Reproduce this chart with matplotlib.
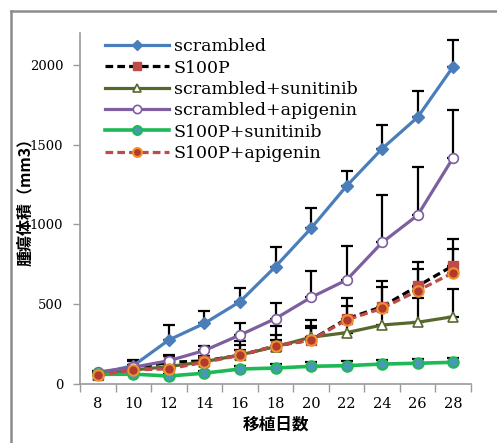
import matplotlib
matplotlib.use("Agg")
import matplotlib.pyplot as plt
from matplotlib.lines import Line2D
import numpy as np

days = [8, 10, 12, 14, 16, 18, 20, 22, 24, 26, 28]

scrambled = [65, 115, 276, 380, 516, 736, 976, 1241, 1475, 1672, 1990]
scrambled_err = [10, 35, 95, 80, 88, 121, 125, 96, 149, 165, 167]

s100p = [58, 100, 136, 145, 180, 238, 276, 408, 485, 614, 742]
s100p_err = [5, 45, 45, 60, 90, 126, 125, 133, 161, 149, 167]

scr_sun = [56, 88, 109, 140, 182, 234, 293, 322, 370, 387, 422]
scr_sun_err = [5, 10, 15, 20, 30, 40, 60, 80, 110, 150, 172]

scr_api = [75, 105, 146, 210, 307, 410, 543, 652, 887, 1058, 1419]
scr_api_err = [5, 15, 30, 31, 78, 96, 165, 213, 295, 302, 299]

s100p_sun = [60, 62, 50, 68, 94, 100, 111, 115, 125, 130, 136]
s100p_sun_err = [5, 8, 10, 12, 20, 25, 30, 30, 25, 25, 28]

s100p_api = [55, 88, 95, 136, 180, 240, 274, 402, 474, 585, 698]
s100p_api_err = [5, 20, 30, 40, 67, 67, 90, 84, 132, 136, 146]

labels = ["scrambled", "S100P", "scrambled+sunitinib", "scrambled+apigenin",
          "S100P+sunitinib", "S100P+apigenin"]
yticks = [0, 500, 1000, 1500, 2000]

W, H = 497, 443
fig = plt.figure(figsize=(W / 100, H / 100), dpi=100)
ax = fig.add_axes([80 / W, (H - 384) / H, (471 - 80) / W, (384 - 33) / H])

x = np.array(days)
series = [
    (scrambled, scrambled_err, dict(color="#4a7ebb", lw=2.3, ls="-", marker="D", ms=6,
                                    mfc="#4a7ebb", mec="#4a7ebb")),
    (s100p, s100p_err, dict(color="black", lw=2.3, ls=(0, (2.4, 1.3)), marker="s", ms=6.5,
                            mfc="#be4b48", mec="#be4b48")),
    (scr_sun, scr_sun_err, dict(color="#56682c", lw=2.3, ls="-", marker="^", ms=6.5,
                                mfc="white", mec="#56682c", mew=1.2)),
    (scr_api, scr_api_err, dict(color="#7d5fa0", lw=2.3, ls="-", marker="o", ms=7,
                                mfc="white", mec="#7d5fa0", mew=1.2)),
    (s100p_sun, s100p_sun_err, dict(color="#1db954", lw=2.6, ls="-", marker="o", ms=7.5,
                                    mfc="#4a98b8", mec="#1db954", mew=1.5)),
    (s100p_api, s100p_api_err, dict(color="#be4b48", lw=2.3, ls=(0, (2.4, 1.3)), marker="o", ms=7.5,
                                    mfc="#b03a2e", mec="#f0902e", mew=1.5)),
]

for vals, err, st in series:
    ax.errorbar(x, vals, yerr=[np.zeros(len(err)), err], fmt="none", ecolor="black",
                elinewidth=1.6, capsize=4, capthick=1.6, zorder=1)

handles = []
for (vals, err, st), lab in zip(series, labels):
    h, = ax.plot(x, vals, label=lab, zorder=3, **st)
    handles.append(h)

ax.set_xlim(7, 29)
ax.set_ylim(0, 2200)
ax.set_xticks(days)
ax.set_xticklabels([str(d) for d in days])
ax.set_xticks(np.arange(7, 30, 2), minor=True)
ax.tick_params(axis="x", which="major", length=0, pad=9, labelsize=10.5)
ax.tick_params(axis="x", which="minor", length=6, width=1, color="#9a9a9a", direction="out")
ax.set_yticks(yticks)
ax.tick_params(axis="y", length=5, width=1, color="#9a9a9a", pad=7, labelsize=9.5)
for t in ax.get_xticklabels() + ax.get_yticklabels():
    t.set_family("DejaVu Serif")

for s in ["top", "right"]:
    ax.spines[s].set_visible(False)
for s in ["left", "bottom"]:
    ax.spines[s].set_color("#9a9a9a")
    ax.spines[s].set_linewidth(1.2)

ax.set_xlabel("移植日数", fontsize=12, fontweight="bold",
              family=["Noto Sans CJK JP", "DejaVu Sans"], labelpad=4)
ax.set_ylabel("腫瘍体積（mm3）", fontsize=11.5, fontweight="bold",
              family=["Noto Sans CJK JP", "DejaVu Sans"])
ax.yaxis.set_label_coords(-0.12, 0.53)

leg = ax.legend(handles=handles, loc="upper left", frameon=False,
                prop={"family": "DejaVu Serif", "size": 12.5},
                handlelength=3.7, handletextpad=0.3, labelspacing=0.25,
                borderaxespad=0.0, bbox_to_anchor=(0.045, 1.005), markerscale=0.85)

# partial frame border at top and left
fig.add_artist(Line2D([11 / W, 11 / W], [0, 1 - 11 / H], transform=fig.transFigure,
                      color="#8c8c8c", lw=1.8))
fig.add_artist(Line2D([11 / W, 1], [1 - 11 / H, 1 - 11 / H], transform=fig.transFigure,
                      color="#8c8c8c", lw=1.8))

fig.savefig("out.png", dpi=100)
